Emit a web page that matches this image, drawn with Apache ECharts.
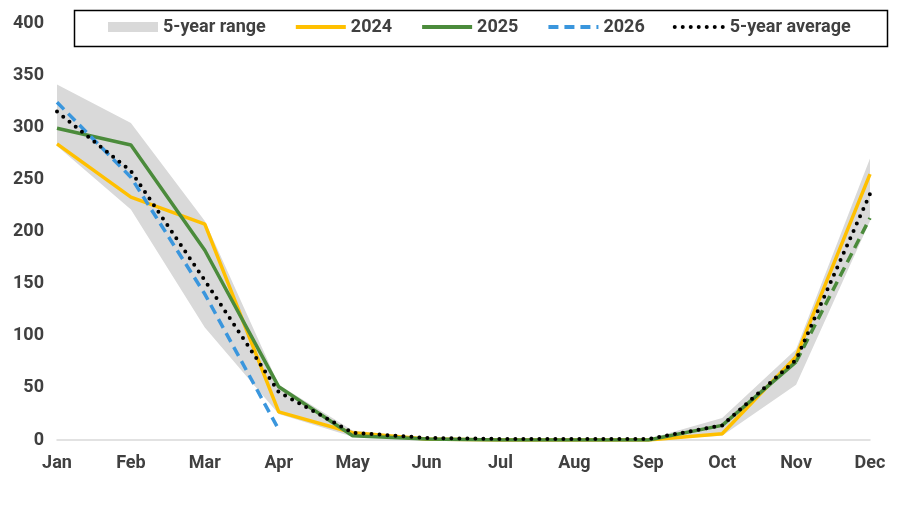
<!DOCTYPE html>
<html><head><meta charset="utf-8">
<script src="https://cdn.jsdelivr.net/npm/echarts@6/dist/echarts.min.js"></script>
<style>html,body{margin:0;padding:0;background:#fff}#c{width:907px;height:511px}</style>
</head><body><div id="c"></div>
<script>
var months = ['Jan','Feb','Mar','Apr','May','Jun','Jul','Aug','Sep','Oct','Nov','Dec'];
var rangeHigh = [341, 304, 210, 53, 9, 2, 1, 1, 1, 21, 87, 270];
var rangeLow  = [282, 221, 108, 25, 3, 0, 0, 0, 0, 4, 53, 210];
var y2024 = [284, 233, 207, 27, 7, 1, 0, 0, 0, 6, 80, 255];
var y2025 = [299, 283, 182, 51, 4, 1, 0, 0, 0, 14, 75, 213];
var y2026 = [324, 252, 140, 10, null, null, null, null, null, null, null, null];
var avg5  = [315, 258, 153, 46, 7, 2, 1, 1, 1, 14, 77, 236];
var yTicks = [0, 400, 50];

var rangeDiff = rangeHigh.map(function(v, i){ return v - rangeLow[i]; });
var y2025Solid = y2025.map(function(v, i){ return i <= 10 ? v : null; });
var y2025Dash = y2025.map(function(v, i){ return i >= 10 ? v : null; });

var FONT = 'Roboto';
var TXT = '#404040';
var hide = { opacity: 0 };
var chart = echarts.init(document.getElementById('c'));
chart.setOption({
  animation: false,
  grid: { left: 57, right: 37, top: 23, bottom: 71, containLabel: false },
  graphic: [{ type: 'rect', left: 72, top: 8, shape: { width: 813, height: 36 },
    style: { fill: 'none', stroke: '#000', lineWidth: 1.5 }, z: 100 }],
  legend: {
    top: 13, left: 103, itemWidth: 50, itemHeight: 10, itemGap: 28,
    textStyle: { fontFamily: FONT, fontSize: 18, fontWeight: 'bold', color: TXT },
    data: [
      { name: '5-year range', icon: 'rect', itemStyle: { color: '#d9d9d9' } },
      { name: '2024', itemStyle: hide, lineStyle: { width: 4, color: '#ffc000' } },
      { name: '2025', itemStyle: hide, lineStyle: { width: 4, color: '#4b8b3b' } },
      { name: '2026', itemStyle: hide, lineStyle: { width: 4, color: '#3a96dd', type: [10, 6] } },
      { name: '5-year average', itemStyle: hide, lineStyle: { width: 4, color: '#000', type: [0, 8], cap: 'round' } }
    ]
  },
  xAxis: {
    type: 'category', data: months, boundaryGap: false,
    axisLine: { lineStyle: { color: '#d9d9d9', width: 1.5 } },
    axisTick: { show: false },
    axisLabel: { fontFamily: FONT, fontSize: 18, fontWeight: 'bold', color: TXT, margin: 14, interval: 0 }
  },
  yAxis: {
    type: 'value', min: yTicks[0], max: yTicks[1], interval: yTicks[2],
    splitLine: { show: false }, axisLine: { show: false }, axisTick: { show: false },
    axisLabel: { fontFamily: FONT, fontSize: 18, fontWeight: 'bold', color: TXT, margin: 13 }
  },
  series: [
    { name: 'rangeLow', type: 'line', stack: 'r', data: rangeLow, symbol: 'none',
      lineStyle: { width: 0, opacity: 0 }, silent: true, z: 1 },
    { name: '5-year range', type: 'line', stack: 'r', data: rangeDiff, symbol: 'none',
      lineStyle: { width: 0, opacity: 0 }, itemStyle: { color: '#d9d9d9' },
      areaStyle: { color: '#d9d9d9', opacity: 1 }, z: 1 },
    { name: '2024', type: 'line', data: y2024, symbol: 'none', itemStyle: { color: '#ffc000' },
      lineStyle: { color: '#ffc000', width: 3.5 }, z: 2 },
    { name: '2025', type: 'line', data: y2025Solid, symbol: 'none', itemStyle: { color: '#4b8b3b' },
      lineStyle: { color: '#4b8b3b', width: 3.5 }, z: 3 },
    { name: '2025f', type: 'line', data: y2025Dash, symbol: 'none', itemStyle: { color: '#4b8b3b' },
      lineStyle: { color: '#4b8b3b', width: 3.5, type: [10, 6] }, z: 3 },
    { name: '2026', type: 'line', data: y2026, symbol: 'none', itemStyle: { color: '#3a96dd' },
      lineStyle: { color: '#3a96dd', width: 3.5, type: [10, 6] }, z: 4 },
    { name: '5-year average', type: 'line', data: avg5, symbol: 'none', itemStyle: { color: '#000' },
      lineStyle: { color: '#000', width: 4, type: [0, 8], cap: 'round' }, z: 5 }
  ]
});
</script></body></html>
